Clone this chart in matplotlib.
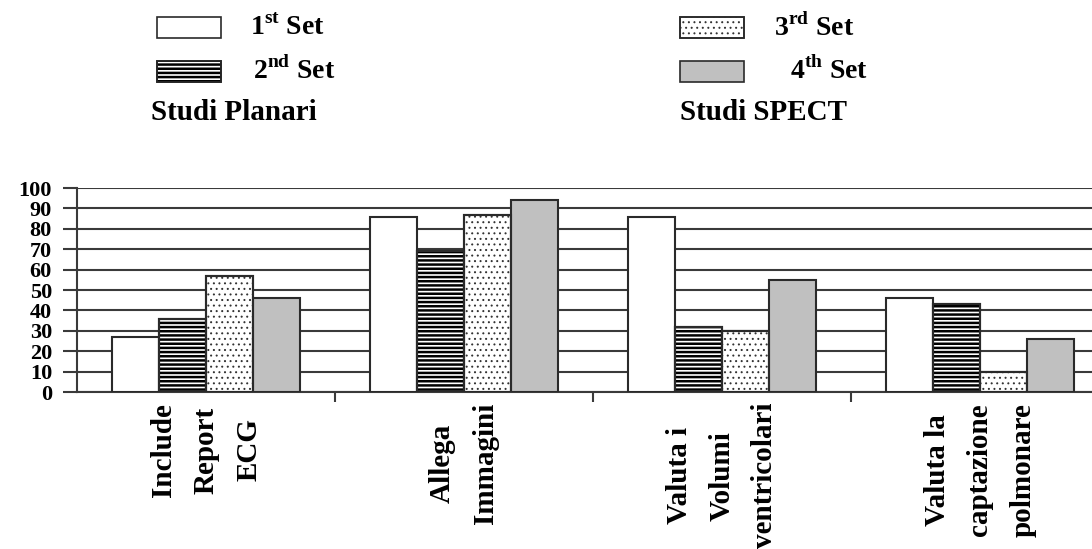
import matplotlib
matplotlib.use("Agg")
import matplotlib.pyplot as plt
from matplotlib.patches import Rectangle
import numpy as np

categories = ["Include\nReport\nECG", "Allega\nImmagini",
              "Valuta i\nVolumi\nventricolari", "Valuta la\ncaptazione\npolmonare"]
set1 = [27, 86, 86, 46]
set2 = [36, 69, 32, 43]
set3 = [57, 87, 30, 10]
set4 = [46, 94, 55, 26]
series_labels = ["1$^{\\mathregular{st}}$ Set", "2$^{\\mathregular{nd}}$ Set",
                 "3$^{\\mathregular{rd}}$ Set", "4$^{\\mathregular{th}}$ Set"]
group_labels = ["Studi Planari", "Studi SPECT"]
yticks = list(range(0, 101, 10))

plt.rcParams['font.family'] = ['Liberation Serif', 'DejaVu Serif']
plt.rcParams['font.weight'] = 'bold'
plt.rcParams['mathtext.fontset'] = 'custom'
plt.rcParams['mathtext.rm'] = 'Liberation Serif:bold'
plt.rcParams['mathtext.bf'] = 'Liberation Serif:bold'

W, H = 1092, 549
fig = plt.figure(figsize=(W / 100, H / 100), dpi=100)

def fx(p):
    return p / W

def fy(p):
    return 1 - p / H

ax_left, ax_right, ax_top, ax_bot = 77, 1109, 188, 392
ax = fig.add_axes([fx(ax_left), fy(ax_bot), (ax_right - ax_left) / W, (ax_bot - ax_top) / H])

styles = [
    dict(facecolor="white", edgecolor="#2a2a2a", hatch=None, hlw=1.0),
    dict(facecolor="white", edgecolor="black", hatch="----", hlw=1.8),
    dict(facecolor="white", edgecolor="#333333", hatch="...", hlw=0.7),
    dict(facecolor="#c0c0c0", edgecolor="#2a2a2a", hatch=None, hlw=1.0),
]
x = np.arange(len(categories))
bw = 0.182
series = [set1, set2, set3, set4]
for i, (vals, st) in enumerate(zip(series, styles)):
    pos = x + (i - 1.5) * bw
    with plt.rc_context({'hatch.linewidth': st["hlw"]}):
        ax.bar(pos, vals, width=bw, facecolor=st["facecolor"], edgecolor=st["edgecolor"],
               hatch=st["hatch"], linewidth=1.5, zorder=3)
    if st["hatch"]:
        ax.bar(pos, vals, width=bw, facecolor="none", edgecolor="#2a2a2a",
               linewidth=1.5, zorder=4)

ax.set_xlim(-0.5, len(categories) - 0.5)
ax.set_ylim(0, 100)
ax.set_yticks(yticks)
ax.set_yticklabels([str(t) for t in yticks], fontsize=16, fontweight='bold')
ax.yaxis.grid(True, color="#3a3a3a", linewidth=1.5, zorder=0)
ax.set_axisbelow(True)
ax.tick_params(axis='y', length=10, width=1.5, color="#3a3a3a", pad=8)

ax.set_xticks(np.arange(len(categories) - 1) + 0.5)
ax.set_xticklabels([])
ax.tick_params(axis='x', which='major', length=7, width=1.5, color="#3a3a3a", direction='out')
ax.set_xticks(x, minor=True)
ax.set_xticklabels(categories, minor=True, rotation=90, fontsize=21, fontweight='bold',
                   linespacing=1.75, va='top', ha='center', multialignment='center')
ax.tick_params(axis='x', which='minor', length=0, pad=8)

for s in ["top", "right"]:
    ax.spines[s].set_visible(False)
ax.spines["left"].set_color("#3a3a3a")
ax.spines["left"].set_linewidth(1.5)
ax.spines["bottom"].set_color("#3a3a3a")
ax.spines["bottom"].set_linewidth(1.5)

# legend block
patch_pos = [(157, 17), (157, 61), (680, 17), (680, 61)]
text_pos = [(250, 28), (253, 71), (774, 28), (790, 71)]
pw, ph = 64, 21
for (px, py), (tx, ty), st, lab in zip(patch_pos, text_pos, styles, series_labels):
    with plt.rc_context({'hatch.linewidth': st["hlw"]}):
        r = Rectangle((fx(px), fy(py + ph)), pw / W, ph / H, transform=fig.transFigure,
                      facecolor=st["facecolor"], edgecolor=st["edgecolor"],
                      hatch=st["hatch"], linewidth=1.2)
    fig.add_artist(r)
    if st["hatch"]:
        fig.add_artist(Rectangle((fx(px), fy(py + ph)), pw / W, ph / H, transform=fig.transFigure,
                                 facecolor="none", edgecolor="#2a2a2a", linewidth=1.2))
    fig.text(fx(tx), fy(ty), lab, fontsize=20, fontweight='bold', va='center', ha='left')

fig.text(fx(151), fy(113), group_labels[0], fontsize=21, fontweight='bold', va='center', ha='left')
fig.text(fx(680), fy(113), group_labels[1], fontsize=21, fontweight='bold', va='center', ha='left')

fig.savefig("out.png", dpi=100)
